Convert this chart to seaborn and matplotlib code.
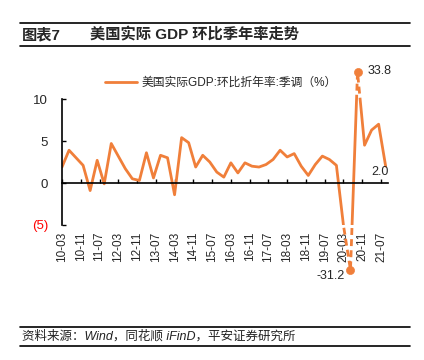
import numpy as np
import pandas as pd
import seaborn as sns
import matplotlib
matplotlib.use("Agg")
import matplotlib.pyplot as plt
from matplotlib.patches import Rectangle
from matplotlib.lines import Line2D

# ---------------- data ----------------
quarters = pd.period_range("2010Q1", "2021Q3", freq="Q")
gdp_qoq_saar = [
    1.9, 3.9, 3.0, 2.1,
    -0.9, 2.7, -0.1, 4.7,
    3.2, 1.7, 0.5, 0.3,
    3.6, 0.6, 3.3, 3.0,
    -1.4, 5.4, 4.8, 1.9,
    3.3, 2.5, 1.3, 0.7,
    2.4, 1.2, 2.4, 2.0,
    1.9, 2.2, 2.8, 3.9,
    3.1, 3.5, 2.0, 0.9,
    2.2, 3.2, 2.8, 2.1,
    -5.1, -31.2, 33.8, 4.5,
    6.3, 7.0, 2.0,
]
tick_labels = ["10-03", "10-11", "11-07", "12-03", "12-11", "13-07", "14-03",
               "14-11", "15-07", "16-03", "16-11", "17-07", "18-03", "18-11",
               "19-07", "20-03", "20-11", "21-07"]
y_ticks = [-5, 0, 5, 10]
y_tick_labels = ["(5)", "0", "5", "10"]
legend_label = "美国实际GDP:环比折年率:季调（%）"
title_no = "图表7"
title_txt = "美国实际 GDP 环比季年率走势"
source_txt = "资料来源：Wind，同花顺 iFinD，平安证券研究所"

# month offsets from 2010-03 (x positions on a monthly axis)
def month_offset(lbl):
    yy, mm = lbl.split("-")
    return (int(yy) - 10) * 12 + int(mm) - 3

months = [(q.year - 2010) * 12 + q.quarter * 3 - 3 for q in quarters]
tick_pos = [month_offset(l) for l in tick_labels]
df = pd.DataFrame({"m": months, "v": gdp_qoq_saar})

# ---------------- style ----------------
sns.set_style("white")
plt.rcParams["font.family"] = ["Liberation Sans", "Noto Sans CJK SC", "DejaVu Sans"]
C = "#F07F3A"

Y_LO, Y_HI = -5, 10
K_HI, K_LO = 0.135, 0.2045
EXTREME = 20

def fwd(y):
    y = np.asarray(y, dtype=float)
    return np.where(y > Y_HI, Y_HI + (y - Y_HI) * K_HI,
                    np.where(y < Y_LO, Y_LO + (y - Y_LO) * K_LO, y))

def inv(y):
    y = np.asarray(y, dtype=float)
    return np.where(y > Y_HI, Y_HI + (y - Y_HI) / K_HI,
                    np.where(y < Y_LO, Y_LO + (y - Y_LO) / K_LO, y))

W, H = 424, 360
fig = plt.figure(figsize=(W / 100, H / 100), dpi=100)
ax = fig.add_axes([62 / W, 1 - 225 / H, (388 - 62) / W, (225 - 99) / H])
ax.set_yscale("function", functions=(fwd, inv))
ax.set_xlim(0, 139)
ax.set_ylim(Y_LO, Y_HI)

# solid part inside the axis range
sns.lineplot(data=df, x="m", y="v", ax=ax, color=C, lw=2.0, sort=False,
             estimator=None, label=legend_label)
# dashed parts outside the range
for y0, h in [(Y_HI, 40), (Y_LO - 40, 40)]:
    sns.lineplot(data=df, x="m", y="v", ax=ax, color=C, lw=2.0, sort=False,
                 estimator=None, legend=False, linestyle=(0, (2.5, 1.5)))
    ln = ax.lines[-1]
    ln.set_clip_path(Rectangle((-10, y0), 170, h, transform=ax.transData))

ext = df[df.v.abs() > EXTREME]
sns.scatterplot(data=ext, x="m", y="v", ax=ax, color=C, s=34, edgecolor=C,
                clip_on=False, legend=False, zorder=5)

for _, r in ext.iterrows():
    if r.v > 0:
        ax.annotate(f"{r.v:.1f}", (r.m, r.v), xytext=(7, 1), textcoords="offset points",
                    ha="left", va="center", fontsize=9, annotation_clip=False)
    else:
        ax.annotate(f"{r.v:.1f}", (r.m, r.v), xytext=(-4, -4), textcoords="offset points",
                    ha="right", va="center", fontsize=9, annotation_clip=False)
last = df.iloc[-1]
ax.annotate(f"{last.v:.1f}", (last.m, last.v), xytext=(2.5, -4), textcoords="offset points",
            ha="right", va="center", fontsize=9, annotation_clip=False)

# axes styling
for s in ["top", "right"]:
    ax.spines[s].set_visible(False)
ax.spines["left"].set_color("black")
ax.spines["left"].set_linewidth(1.2)
ax.spines["bottom"].set_color("black")
ax.spines["bottom"].set_linewidth(1.2)
ax.spines["bottom"].set_position(("data", 0))

ax.set_xticks(tick_pos)
ax.tick_params(axis="x", direction="in", length=3, width=1, color="black",
               labelbottom=False, bottom=True)
ax.set_yticks(y_ticks, y_tick_labels)
ax.tick_params(axis="y", direction="in", length=3, width=1, color="black",
               pad=10, labelsize=9.5, left=True)
ax.get_yticklabels()[0].set_color("red")
ax.set_xlabel("")
ax.set_ylabel("")
ax.grid(False)

sec = ax.secondary_xaxis("bottom")
sec.set_xticks(tick_pos, labels=tick_labels)
sec.tick_params(length=0, rotation=90, pad=5, labelsize=8.5)
sec.spines["bottom"].set_visible(False)

leg = ax.legend(loc="center", bbox_to_anchor=(221 / W, 1 - 83 / H),
                bbox_transform=fig.transFigure, frameon=False, fontsize=8.5,
                handlelength=2.7, handletextpad=0.4)

# title / source
for yy in [23, 46, 327, 346]:
    fig.add_artist(Line2D([20 / W, 410 / W], [1 - yy / H] * 2, color="black", lw=1.2))
fig.text(22 / W, 1 - 35 / H, title_no, fontsize=11, fontweight="bold", va="center")
fig.text(90 / W, 1 - 35 / H, title_txt, fontsize=11, fontweight="bold", va="center")
fig.text(22 / W, 1 - 336 / H, source_txt, fontsize=9, style="italic", va="center",
         color="#222222")

fig.savefig("out.png", dpi=100)
